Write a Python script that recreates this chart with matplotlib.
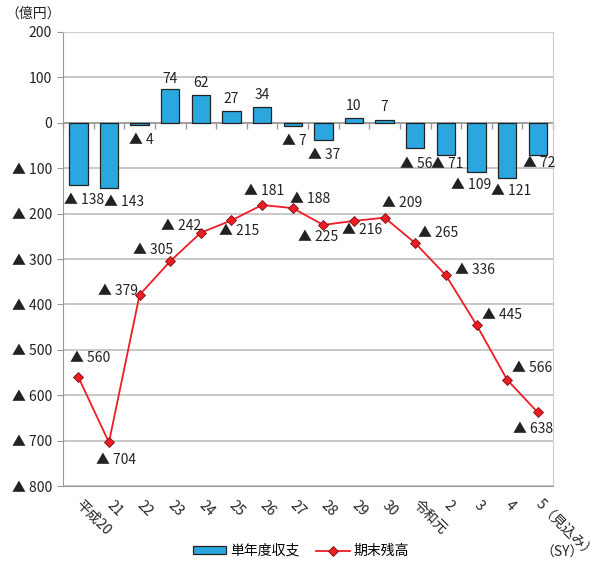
import matplotlib
matplotlib.use("Agg")
import matplotlib.pyplot as plt
from matplotlib.patches import Patch
from matplotlib.lines import Line2D
import numpy as np

plt.rcParams['font.family'] = ['Noto Sans CJK JP', 'DejaVu Sans']

# 年度
years = ["平成20", "21", "22", "23", "24", "25", "26", "27", "28", "29", "30",
         "令和元", "2", "3", "4", "5（見込み）"]
# 単年度収支（億円）
annual = [-138, -143, -4, 74, 62, 27, 34, -7, -37, 10, 7, -56, -71, -109, -121, -72]
# 期末残高（億円）
balance = [-560, -704, -379, -305, -242, -215, -181, -188, -225, -216, -209,
           -265, -336, -445, -566, -638]

# ラベル位置の微調整（ピクセル）
bar_off = [(6, -15), (15, -14), (2, -15), (0, 10), (0, 12), (0, 12), (0, 12), (2, -15),
           (1, -15), (0, 12), (0, 13), (1, -16), (1, -9), (-5, -13), (4, -13), (1, -8)]
line_off = [(12, 19), (7, -18), (-22, 4), (-17, 11), (-20, 7), (8, -11), (2, 14), (17, 9),
            (-5, -12), (8, -9), (18, 15), (23, 10), (29, 5), (25, 10), (25, 12), (-5, -17)]


def fmt(v):
    return f"▲ {abs(v)}" if v < 0 else f"{v}"


fig = plt.figure(figsize=(5.96, 5.66), dpi=100)
ax = fig.add_axes([0.1057, 0.1413, 0.8223, 0.8022])

x = np.arange(len(years))
ax.set_xlim(-0.5, len(years) - 0.5)
ax.set_ylim(-800, 200)

yticks = np.arange(-800, 201, 100)
ax.set_yticks(yticks)
ax.set_yticklabels([fmt(int(v)) for v in yticks], fontsize=10, color="#222222")
ax.yaxis.grid(True, color="#bfbfbf", linewidth=1.2)
ax.set_axisbelow(True)
ax.tick_params(axis="y", length=4, color="#999999", pad=4)

ax.set_xticks(x)
ax.set_xticklabels(years, rotation=-45, ha="left", va="center",
                   rotation_mode="anchor", fontsize=10, color="#222222")
ax.tick_params(axis="x", length=0, pad=12)

for s in ["top", "right", "left", "bottom"]:
    ax.spines[s].set_color("#cccccc")
ax.spines["left"].set_color("#999999")
ax.spines["bottom"].set_color("#999999")

# 0 の軸とカテゴリ区切りの目盛
ax.axhline(0, color="#999999", linewidth=1.2, zorder=1)
ax.plot(np.arange(len(years) + 1) - 0.5, [0] * (len(years) + 1), ls="none",
        marker=3, markersize=4, markeredgewidth=1, color="#999999", clip_on=False)

ax.bar(x, annual, width=0.6, color="#2aa7de", edgecolor="#222222", linewidth=0.9, zorder=2)
ax.plot(x, balance, color="#ee1c25", linewidth=1.3, marker="D", markersize=5,
        markerfacecolor="#ee1c25", markeredgecolor="#7a1010", markeredgewidth=0.6, zorder=3)

for i, v in enumerate(annual):
    ax.annotate(fmt(v), (x[i], v), xytext=bar_off[i], textcoords="offset pixels",
                ha="center", va="center", fontsize=10, color="#222222")
for i, v in enumerate(balance):
    ax.annotate(fmt(v), (x[i], v), xytext=line_off[i], textcoords="offset pixels",
                ha="center", va="center", fontsize=10, color="#222222")

fig.text(33 / 596, 1 - 14 / 566, "（億円）", ha="center", va="center", fontsize=10, color="#222222")
fig.text(562 / 596, 1 - 553 / 566, "（SY）", ha="center", va="center", fontsize=10, color="#222222")

handles = [Patch(facecolor="#2aa7de", edgecolor="#222222", linewidth=0.9),
           Line2D([0], [0], color="#ee1c25", linewidth=1.3, marker="D", markersize=5,
                  markerfacecolor="#ee1c25", markeredgecolor="#7a1010", markeredgewidth=0.6)]
fig.legend(handles, ["単年度収支", "期末残高"], loc="center", bbox_to_anchor=(0.505, 1 - 551 / 566),
           ncol=2, frameon=False, fontsize=10, handlelength=2.4, handleheight=0.5,
           columnspacing=1.2, handletextpad=0.3)

fig.savefig("out.png", dpi=100)
